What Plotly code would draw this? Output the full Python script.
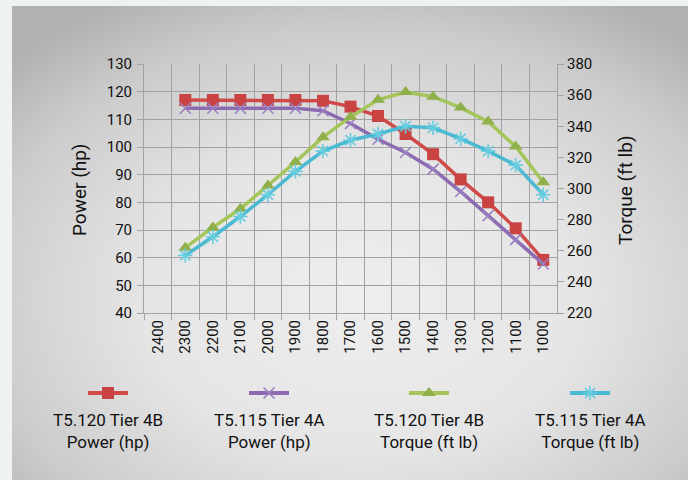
import plotly.graph_objects as go
import urllib.parse

# ---------------- data ----------------
rpm_categories = ["2400", "2300", "2200", "2100", "2000", "1900", "1800", "1700",
                  "1600", "1500", "1400", "1300", "1200", "1100", "1000"]
rpm_data = ["2300", "2200", "2100", "2000", "1900", "1800", "1700",
            "1600", "1500", "1400", "1300", "1200", "1100", "1000"]

t5120_power = [117, 117, 117, 117, 117, 116.7, 114.6, 111.2, 104.7, 97.4, 88.3, 80, 70.6, 59.2]
t5115_power = [114, 114, 114, 114, 114, 113.1, 108.5, 102.8, 98, 92, 83.9, 75.2, 66.6, 57.7]
t5120_torque = [262, 275, 287, 302, 317, 333, 346, 357, 362, 359, 352, 343, 327, 304]
t5115_torque = [257, 269, 282, 296, 311, 324, 331, 335, 340, 339, 332, 324, 315, 296]

series_names = ["T5.120 Tier 4B<br>Power (hp)", "T5.115 Tier 4A<br>Power (hp)",
                "T5.120 Tier 4B<br>Torque (ft lb)", "T5.115 Tier 4A<br>Torque (ft lb)"]

left_ticks = [40, 50, 60, 70, 80, 90, 100, 110, 120, 130]
right_ticks = [220, 240, 260, 280, 300, 320, 340, 360, 380]

# ---------------- styles ----------------
W, H = 688, 480
FONT = "Roboto"
colors = ["#d04a4a", "#8c6bb1", "#a3c55a", "#4bb9d2"]
marker_colors = ["#c94343", "#9a80c0", "#8fb04a", "#66cde0"]
symbols = ["square", "x-thin-open", "triangle-up", "asterisk-open"]
msizes = [12, 11, 12, 12]

# plot area in pixels
PL, PR, PT, PB = 144, 557, 64, 313

fig = go.Figure()

series = [(t5120_power, "y"), (t5115_power, "y"), (t5120_torque, "y2"), (t5115_torque, "y2")]
for i, (vals, ax) in enumerate(series):
    mk = dict(symbol=symbols[i], size=msizes[i], color=marker_colors[i])
    if "open" in symbols[i]:
        mk["line"] = dict(width=1.6, color=marker_colors[i])
    fig.add_trace(go.Scatter(
        x=rpm_data, y=vals, yaxis=ax, xaxis="x",
        mode="lines+markers", name=series_names[i].replace("<br>", " "),
        line=dict(color=colors[i], width=3.5),
        marker=mk, showlegend=False, hoverinfo="skip"))

# ---------------- custom legend (symbol above text) ----------------
legend_centers = [108, 269, 429, 590]
legend_y = 393
for i, cx in enumerate(legend_centers):
    fig.add_trace(go.Scatter(
        x=[cx - 20, cx + 20], y=[legend_y, legend_y], xaxis="x3", yaxis="y3",
        mode="lines", line=dict(color=colors[i], width=4),
        showlegend=False, hoverinfo="skip"))
    mk = dict(symbol=symbols[i], size=msizes[i], color=marker_colors[i])
    if "open" in symbols[i]:
        mk["line"] = dict(width=1.6, color=marker_colors[i])
    fig.add_trace(go.Scatter(
        x=[cx], y=[legend_y], xaxis="x3", yaxis="y3", mode="markers",
        marker=mk, showlegend=False, hoverinfo="skip"))
    fig.add_annotation(x=cx, y=431, xref="x3", yref="y3", text=series_names[i],
                       showarrow=False,
                       font=dict(family=FONT, size=17, color="#111111"),
                       align="center", xanchor="center", yanchor="middle")

# ---------------- background gradient ----------------
svg = ("<svg xmlns='http://www.w3.org/2000/svg' width='676' height='474' viewBox='0 0 676 474' preserveAspectRatio='none'>"
       "<defs><radialGradient id='g' cx='0.52' cy='0.62' r='0.72' fx='0.52' fy='0.62'>"
       "<stop offset='0' stop-color='#eeeeee'/>"
       "<stop offset='0.45' stop-color='#e5e5e5'/>"
       "<stop offset='0.8' stop-color='#cbcbcb'/>"
       "<stop offset='1' stop-color='#b2b2b2'/>"
       "</radialGradient></defs>"
       "<rect width='676' height='474' fill='url(#g)'/></svg>")
src = "data:image/svg+xml;charset=utf-8," + urllib.parse.quote(svg)
fig.add_layout_image(dict(source=src, xref="paper", yref="paper", x=12 / W, y=1 - 6 / H,
                          sizex=1 - 12 / W, sizey=1 - 6 / H, sizing="stretch",
                          xanchor="left", yanchor="top", layer="below"))

grid = "#a2a2a2"
tickfont = dict(family=FONT, size=15, color="#111111")

fig.update_layout(
    width=W, height=H,
    margin=dict(l=0, r=0, t=0, b=0, autoexpand=False),
    paper_bgcolor="#eef2f3", plot_bgcolor="rgba(0,0,0,0)",
    font=dict(family=FONT),
    xaxis=dict(domain=[PL / W, PR / W], type="category",
               categoryorder="array", categoryarray=rpm_categories,
               range=[-0.5, len(rpm_categories) - 0.5],
               tickson="boundaries", tickangle=-90, tickfont=tickfont,
               showgrid=True, gridcolor=grid, gridwidth=1,
               ticks="outside", ticklen=6, tickcolor=grid,
               showline=True, linecolor=grid, linewidth=1, anchor="y", zeroline=False,
               automargin=False),
    yaxis=dict(domain=[1 - PB / H, 1 - PT / H], range=[40, 130], tickvals=left_ticks,
               tickfont=tickfont, showgrid=True, gridcolor=grid, gridwidth=1,
               ticks="outside", ticklen=6, tickcolor=grid, ticklabelstandoff=2,
               showline=True, linecolor=grid, linewidth=1, zeroline=False, anchor="x",
               automargin=False),
    yaxis2=dict(domain=[1 - PB / H, 1 - PT / H], range=[220, 380], tickvals=right_ticks,
                overlaying="y", side="right", anchor="x",
                tickfont=tickfont, showgrid=False,
                ticks="outside", ticklen=6, tickcolor=grid,
                showline=True, linecolor=grid, linewidth=1, zeroline=False,
                automargin=False),
    xaxis3=dict(domain=[0, 1], range=[0, W], visible=False, anchor="y3", fixedrange=True,
                automargin=False),
    yaxis3=dict(domain=[0, 1], range=[H, 0], visible=False, anchor="x3", fixedrange=True,
                automargin=False),
    showlegend=False,
)

# axis titles
fig.add_annotation(x=79, y=190, xref="x3", yref="y3", text="Power (hp)", textangle=-90,
                   showarrow=False, font=dict(family=FONT, size=19, color="#111111"),
                   xanchor="center", yanchor="middle")
fig.add_annotation(x=625, y=190, xref="x3", yref="y3", text="Torque (ft lb)", textangle=-90,
                   showarrow=False, font=dict(family=FONT, size=19, color="#111111"),
                   xanchor="center", yanchor="middle")

fig.write_html("out.html", config={"displayModeBar": False},
               post_script="document.body.style.margin='0';document.body.style.overflow='hidden';")
